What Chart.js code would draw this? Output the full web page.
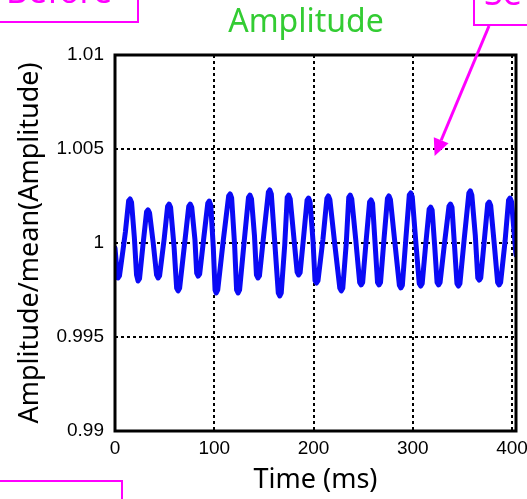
<!DOCTYPE html>
<html>
<head>
<meta charset="utf-8">
<script src="https://cdn.jsdelivr.net/npm/chart.js@4.4.1/dist/chart.umd.min.js"></script>
<style>
  html, body { margin: 0; padding: 0; background: #fff; }
  #wrap { width: 527px; height: 499px; }
</style>
</head>
<body>
<div id="wrap"><canvas id="c" width="527" height="499"></canvas></div>
<script>
// Normalised amplitude trace (amplitude divided by its mean) against time
const timeMs = [
  0, 1.5, 3, 4.5, 8, 10.5, 13.7, 15.2, 16.7, 19.5, 21.7, 23.2, 24.7, 28, 31.8, 33.3, 34.8, 38.5, 41.9, 43.4,
  44.9, 49.5, 53, 54.5, 56, 59.5, 62.1, 63.6, 65.1, 70, 74.3, 75.8, 77.3, 80.5, 82.3, 83.8, 85.3, 89.5, 93.5, 95,
  96.5, 99, 100.8, 102, 103.5, 109, 114.5, 116, 117.5, 120.5, 122.5, 124, 125.5, 130, 134.5, 136, 137.5, 140.5, 142.5, 144,
  145.5, 150, 154.5, 156, 157.5, 161, 164.5, 166, 167.5, 171, 173.5, 175, 176.5, 180, 183.5, 185, 186.5, 190, 193.5, 195,
  196.5, 199.5, 201.5, 203, 204.5, 209.5, 213.5, 215, 216.5, 221.5, 226.5, 228, 229.5, 233, 235.5, 237, 238.5, 242.5, 246.5, 248,
  249.5, 253, 256.5, 258, 259.5, 262, 264.5, 266, 267.5, 271, 274.5, 276, 277.5, 282, 286.5, 288, 289.5, 293, 296.5, 298,
  299.5, 303, 306.5, 308, 309.5, 313, 316.5, 318, 319.5, 322, 324.5, 326, 327.5, 332, 336.5, 338, 339.5, 342, 344.5, 346,
  347.5, 352, 356.5, 358, 359.5, 363, 365.5, 367, 368.5, 372, 375.5, 377, 378.5, 382, 385.5, 387, 388.5, 393, 396.5, 398,
  399.5, 404
];
const amplitudeRatio = [
  0.99973, 0.99880, 0.99814, 0.99825, 0.99960, 1.00060, 1.00224, 1.00234, 1.00215, 1.00030,
  0.99830, 0.99798, 0.99810, 0.99980, 1.00166, 1.00176, 1.00160, 1.00000, 0.99830, 0.99814,
  0.99825, 1.00020, 1.00195, 1.00207, 1.00190, 0.99980, 0.99760, 0.99745, 0.99760, 0.99990,
  1.00195, 1.00207, 1.00190, 1.00020, 0.99840, 0.99824, 0.99835, 1.00030, 1.00212, 1.00223,
  1.00200, 0.99980, 0.99750, 0.99734, 0.99750, 1.00010, 1.00250, 1.00261, 1.00240, 0.99990,
  0.99750, 0.99734, 0.99750, 1.00000, 1.00243, 1.00255, 1.00235, 1.00040, 0.99830, 0.99814,
  0.99825, 1.00050, 1.00270, 1.00282, 1.00260, 1.00000, 0.99735, 0.99718, 0.99735, 0.99990,
  1.00243, 1.00255, 1.00235, 1.00040, 0.99845, 0.99830, 0.99842, 1.00030, 1.00228, 1.00239,
  1.00220, 1.00010, 0.99800, 0.99787, 0.99800, 1.00020, 1.00238, 1.00250, 1.00230, 0.99990,
  0.99760, 0.99745, 0.99760, 1.00000, 1.00243, 1.00255, 1.00235, 1.00020, 0.99790, 0.99777,
  0.99790, 1.00010, 1.00218, 1.00229, 1.00210, 1.00000, 0.99790, 0.99777, 0.99790, 1.00020,
  1.00238, 1.00250, 1.00230, 1.00000, 0.99775, 0.99761, 0.99775, 1.00020, 1.00255, 1.00266,
  1.00245, 1.00010, 0.99785, 0.99771, 0.99785, 0.99990, 1.00180, 1.00191, 1.00175, 0.99990,
  0.99790, 0.99777, 0.99790, 1.00000, 1.00196, 1.00207, 1.00190, 0.99990, 0.99785, 0.99771,
  0.99785, 1.00030, 1.00265, 1.00277, 1.00255, 1.00040, 0.99815, 0.99803, 0.99815, 1.00010,
  1.00207, 1.00218, 1.00200, 1.00000, 0.99790, 0.99777, 0.99790, 1.00010, 1.00228, 1.00239,
  1.00220, 0.99936
];
const xTickValues = [0, 100, 200, 300, 400];
const yTickValues = [0.99, 0.995, 1, 1.005, 1.01];
const yTickLabels = ['0.99', '0.995', '1', '1.005', '1.01'];

const chartTitle = 'Amplitude';
const xTitle = 'Time (ms)';
const yTitle = 'Amplitude/mean(Amplitude)';
const calloutLeft = 'Before';
const calloutRight = 'Se';
// point (time, ratio) the callout arrow indicates
const arrowTarget = [322, 1.00463];

const points = timeMs.map((t, i) => ({ x: t, y: amplitudeRatio[i] }));

const magenta = '#ff00ff';

const decorations = {
  id: 'decorations',
  afterDraw(chart) {
    const ctx = chart.ctx;
    const a = chart.chartArea;
    ctx.save();
    // plot frame
    ctx.strokeStyle = '#000';
    ctx.lineWidth = 3;
    ctx.strokeRect(a.left, a.top, a.right - a.left, a.bottom - a.top);

    // heading
    ctx.fillStyle = '#33cc33';
    ctx.font = '32px "Noto Sans"';
    ctx.textAlign = 'center';
    ctx.textBaseline = 'alphabetic';
    ctx.fillText(chartTitle, 306, 32);

    // callout boxes
    ctx.strokeStyle = magenta;
    ctx.fillStyle = magenta;
    ctx.lineWidth = 2;
    ctx.beginPath();
    ctx.moveTo(-5, 22); ctx.lineTo(138, 22); ctx.lineTo(138, -5);
    ctx.stroke();
    ctx.beginPath();
    ctx.moveTo(474, -5); ctx.lineTo(474, 25); ctx.lineTo(532, 25);
    ctx.stroke();
    ctx.beginPath();
    ctx.moveTo(-5, 481); ctx.lineTo(122, 481); ctx.lineTo(122, 505);
    ctx.stroke();

    ctx.font = '34px "Noto Sans"';
    ctx.textAlign = 'left';
    ctx.fillText(calloutLeft, 6, 3);
    ctx.fillText(calloutRight, 484, 5);

    // arrow
    const xs = chart.scales.x, ys = chart.scales.y;
    const tipX = xs.getPixelForValue(arrowTarget[0]);
    const tipY = ys.getPixelForValue(arrowTarget[1]);
    const sx = 489, sy = 26;
    const dx = tipX - sx, dy = tipY - sy;
    const len = Math.hypot(dx, dy);
    const ux = dx / len, uy = dy / len;
    const hl = 17, hw = 8;
    const bx = tipX - ux * hl, by = tipY - uy * hl;
    ctx.lineWidth = 3;
    ctx.beginPath();
    ctx.moveTo(sx, sy); ctx.lineTo(bx, by);
    ctx.stroke();
    ctx.beginPath();
    ctx.moveTo(tipX, tipY);
    ctx.lineTo(bx - uy * hw, by + ux * hw);
    ctx.lineTo(bx + uy * hw, by - ux * hw);
    ctx.closePath();
    ctx.fill();
    ctx.restore();
  }
};

new Chart(document.getElementById('c'), {
  type: 'line',
  data: {
    datasets: [{
      data: points,
      borderColor: '#0a0af5',
      borderWidth: 5,
      pointRadius: 0,
      tension: 0,
      fill: false,
      borderJoinStyle: 'round',
      borderCapStyle: 'round'
    }]
  },
  options: {
    responsive: false,
    animation: false,
    layout: { padding: { top: 55, right: 11, left: 0, bottom: 0 } },
    plugins: { legend: { display: false }, tooltip: { enabled: false }, title: { display: false } },
    scales: {
      x: {
        type: 'linear',
        min: 0,
        max: 404,
        afterBuildTicks(scale) { scale.ticks = xTickValues.map(v => ({ value: v })); },
        afterFit(scale) {
          scale.height = 68;
          scale.paddingLeft = 0;
          scale.paddingRight = 0;
        },
        ticks: {
          padding: 6,
          color: '#000',
          font: { family: '"Liberation Sans"', size: 19 },
          maxRotation: 0,
          callback: v => String(v)
        },
        grid: {
          drawTicks: false,
          color: ctx => (ctx.tick && ctx.tick.value === 0) ? 'rgba(0,0,0,0)' : '#000',
          lineWidth: 2
        },
        border: { display: false, dash: [3, 3] },
        title: {
          display: true,
          text: xTitle,
          color: '#000',
          font: { family: '"Noto Sans"', size: 27 },
          padding: { top: 0, bottom: 2 }
        }
      },
      y: {
        min: 0.99,
        max: 1.01,
        afterBuildTicks(scale) { scale.ticks = yTickValues.map(v => ({ value: v })); },
        afterFit(scale) { scale.width = 115; },
        ticks: {
          padding: 11,
          color: '#000',
          font: { family: '"Liberation Sans"', size: 19 },
          callback: (v) => yTickLabels[yTickValues.findIndex(t => Math.abs(t - v) < 1e-9)]
        },
        grid: {
          drawTicks: false,
          color: ctx => (ctx.tick && (ctx.tick.value === 0.99 || ctx.tick.value === 1.01)) ? 'rgba(0,0,0,0)' : '#000',
          lineWidth: 2
        },
        border: { display: false, dash: [3, 3] },
        title: {
          display: true,
          text: yTitle,
          color: '#000',
          font: { family: '"Noto Sans"', size: 27 },
          padding: { top: 14, bottom: 0 }
        }
      }
    }
  },
  plugins: [decorations]
});
</script>
</body>
</html>
